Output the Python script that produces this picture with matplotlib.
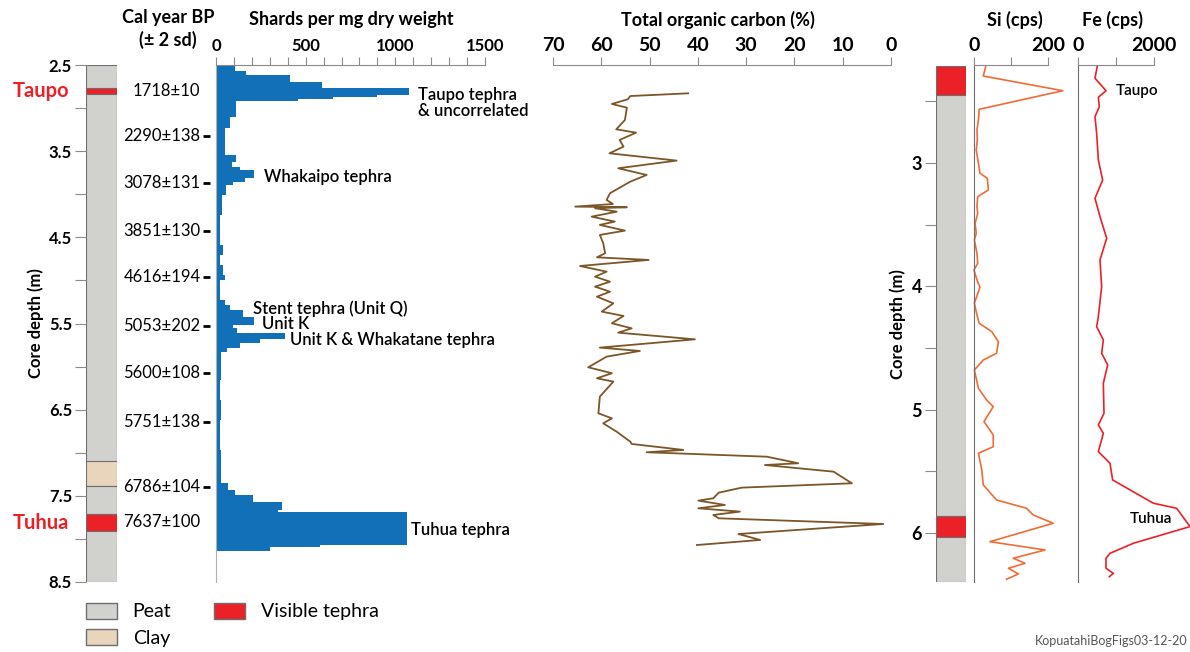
import numpy as np
import matplotlib.pyplot as plt
from matplotlib.patches import Patch
from matplotlib.ticker import MultipleLocator

plt.rcParams['font.family'] = ['Lato', 'DejaVu Sans']

# ==========================================
# DATA
# ==========================================
# lithology, left core log (depth m)
lith_top = [2.50, 2.77, 7.10, 7.39, 7.71, 7.91]
lith_bot = [8.50, 2.84, 7.39, 7.71, 7.91, 8.50]
lith_kind = ['peat', 'tephra', 'clay', 'peat', 'tephra', 'peat']

# lithology, right core log (XRF section)
lith2_top = [2.216, 2.45, 5.86, 6.03]
lith2_bot = [2.45, 5.86, 6.03, 6.396]
lith2_kind = ['tephra', 'peat', 'tephra', 'peat']

# radiocarbon ages
ages = ['1718±10', '2290±138', '3078±131', '3851±130', '4616±194',
        '5053±202', '5600±108', '5751±138', '6786±104', '7637±100']
age_depth = [2.80, 3.32, 3.87, 4.43, 4.96, 5.53, 6.08, 6.64, 7.40, 7.80]
age_dash = [False, True, True, True, True, True, True, True, True, False]

# glass shard counts (bins)
shard_edges = [2.50, 2.57, 2.62, 2.70, 2.77, 2.85, 2.87, 2.89, 2.92, 3.10,
               3.23, 3.54, 3.63, 3.68, 3.72, 3.81, 3.86, 3.89, 4.01, 4.24,
               4.59, 4.70, 4.82, 4.94, 4.99, 5.23, 5.29, 5.34, 5.42, 5.52,
               5.55, 5.61, 5.68, 5.73, 5.78, 5.83, 6.16, 6.39, 6.62, 6.97,
               7.35, 7.43, 7.49, 7.57, 7.66, 7.69, 8.07, 8.09, 8.14]
shard_vals = [106, 165, 415, 590, 1075, 900, 650, 460, 112, 78,
              50, 112, 90, 134, 212, 162, 95, 56, 33, 22,
              39, 22, 39, 50, 22, 50, 78, 151, 212, 95,
              117, 385, 245, 134, 61, 28, 22, 30, 22, 28,
              67, 106, 206, 368, 346, 1066, 580, 300]

shard_notes = ['Taupo tephra\n& uncorrelated', 'Whakaipo tephra', 'Stent tephra (Unit Q)',
               'Unit K', 'Unit K & Whakatane tephra', 'Tuhua tephra']
note_x = [1126, 268, 206, 256, 413, 1087]
note_depth = [2.94, 3.80, 5.33, 5.51, 5.69, 7.90]

# total organic carbon (%)
toc_depth = [2.445, 2.467, 2.493, 2.531, 2.561, 2.660, 2.736, 2.763, 2.822, 2.876,
             2.930, 2.989, 3.051, 3.105, 3.159, 3.253, 3.307, 3.340, 3.361, 3.366,
             3.374, 3.402, 3.442, 3.482, 3.509, 3.555, 3.590, 3.657, 3.738, 3.771,
             3.792, 3.841, 3.887, 3.927, 3.968, 4.008, 4.049, 4.089, 4.143, 4.210,
             4.245, 4.304, 4.345, 4.380, 4.434, 4.501, 4.528, 4.574, 4.660, 4.708,
             4.749, 4.776, 4.897, 5.032, 5.073, 5.113, 5.181, 5.261, 5.280, 5.328,
             5.347, 5.383, 5.436, 5.450, 5.504, 5.598, 5.633, 5.674, 5.719, 5.738,
             5.773, 5.800, 5.827, 5.854, 5.881, 5.927, 6.008, 6.056, 6.097]
toc = [42.0, 54.0, 54.5, 57.8, 54.7, 55.1, 56.9, 52.8, 56.2, 55.4,
       58.3, 44.4, 56.5, 50.6, 54.0, 58.2, 58.9, 57.6, 65.4, 54.7,
       61.3, 56.8, 62.0, 57.2, 60.3, 55.1, 60.3, 59.6, 59.2, 60.9,
       50.2, 64.4, 58.9, 61.3, 58.2, 61.3, 58.2, 60.9, 57.5, 59.9,
       55.4, 57.8, 53.7, 56.5, 40.6, 60.3, 52.0, 58.9, 62.7, 57.8,
       60.9, 57.5, 60.3, 60.6, 57.8, 59.6, 56.8, 54.0, 53.7, 43.0,
       50.6, 25.7, 19.2, 26.1, 11.9, 8.1, 30.9, 35.7, 36.8, 39.9,
       34.4, 39.9, 31.3, 36.8, 35.7, 1.6, 31.6, 27.1, 40.2]

# XRF counts
si_depth = [2.224, 2.305, 2.424, 2.574, 2.660, 2.741, 2.822, 2.903, 3.011, 3.091,
            3.132, 3.226, 3.281, 3.361, 3.415, 3.496, 3.577, 3.631, 3.738, 3.819,
            3.873, 3.954, 4.013, 4.142, 4.237, 4.304, 4.372, 4.453, 4.547, 4.601,
            4.682, 4.830, 4.924, 4.978, 5.099, 5.207, 5.302, 5.355, 5.490, 5.611,
            5.733, 5.800, 5.854, 5.921, 6.070, 6.137, 6.204, 6.245, 6.285, 6.331,
            6.374]
si = [32, 25, 240, 14, 12, 8, 9, 6, 12, 16,
      36, 39, 10, 8, 10, 3, 6, 1, 8, 10,
      0, 8, 16, 1, 8, 14, 48, 66, 61, 25,
      1, 12, 34, 52, 27, 52, 52, 12, 21, 25,
      61, 142, 160, 214, 43, 192, 106, 138, 93, 120,
      88]

fe_depth = [2.224, 2.323, 2.424, 2.477, 2.553, 2.634, 2.768, 2.984, 3.146, 3.294,
            3.442, 3.617, 3.792, 4.008, 4.251, 4.332, 4.439, 4.547, 4.641, 4.789,
            5.032, 5.126, 5.194, 5.342, 5.436, 5.571, 5.759, 5.800, 5.948, 6.083,
            6.164, 6.204, 6.285, 6.326, 6.353]
fe = [509, 447, 737, 535, 561, 447, 491, 535, 649, 447,
      579, 754, 579, 623, 535, 491, 667, 623, 781, 667,
      684, 535, 667, 535, 842, 912, 1982, 2596, 2947, 1456,
      842, 737, 737, 930, 825]

# ==========================================
# STYLE
# ==========================================
fill = {'peat': '#d1d2cd', 'clay': '#e8d5bb', 'tephra': '#ec2027'}
edge = '#6d6e71'
axis_grey = '#8a8a8a'
blue = '#1170b8'
brown = '#7b5628'
si_col = '#f26b35'
fe_col = '#ec2027'

W, H = 1190, 652
fig = plt.figure(figsize=(W / 100, H / 100), dpi=100)


def px_axes(x0, y0, x1, y1):
    return fig.add_axes([x0 / W, 1 - y1 / H, (x1 - x0) / W, (y1 - y0) / H])


def ftxt(x, y, s, **kw):
    fig.text(x / W, 1 - y / H, s, **kw)


def bold_ticks(ax, axis, size):
    labels = ax.get_xticklabels() if axis == 'x' else ax.get_yticklabels()
    for lab in labels:
        lab.set_fontweight('bold')
        lab.set_fontsize(size)


def draw_log(ax, tops, bots, kinds):
    for t, b, k in zip(tops, bots, kinds):
        ax.bar(0.5, b - t, bottom=t, width=1, color=fill[k], edgecolor=edge, linewidth=0.8)
    ax.set_xlim(0, 1)
    ax.set_xticks([])
    for s in ax.spines.values():
        s.set_visible(False)


# ==========================================
# LEFT CORE LOG
# ==========================================
left_ylim = (8.5, 2.5)
ax_lith = px_axes(86, 65, 117, 582)
draw_log(ax_lith, lith_top, lith_bot, lith_kind)
ax_lith.set_ylim(*left_ylim)
ax_lith.set_yticks([2.5, 3.5, 4.5, 5.5, 6.5, 7.5, 8.5])
ax_lith.yaxis.set_minor_locator(MultipleLocator(0.5))
ax_lith.tick_params(axis='y', which='both', length=8, width=0.8, color=axis_grey, pad=2)
bold_ticks(ax_lith, 'y', 12)
ax_lith.set_ylabel('Core depth (m)', fontsize=12, fontweight='bold', labelpad=3.5)

for name, d in zip(['Taupo', 'Tuhua'], [2.80, 7.81]):
    ax_lith.text(-1.45, d, name, transform=ax_lith.get_yaxis_transform(), color=fill['tephra'],
                 fontsize=14.5, fontweight='bold', ha='center', va='center')

# ==========================================
# SHARDS
# ==========================================
ax_sh = px_axes(216, 65, 485, 582)
ax_sh.stairs(shard_vals, shard_edges, orientation='horizontal', fill=True, color=blue)
ax_sh.set_xlim(0, 1500)
ax_sh.set_ylim(*left_ylim)
ax_sh.xaxis.tick_top()
ax_sh.set_xticks([0, 500, 1000, 1500])
ax_sh.xaxis.set_minor_locator(MultipleLocator(100))
ax_sh.tick_params(axis='x', which='both', length=6, width=0.8, color=axis_grey, pad=2)
bold_ticks(ax_sh, 'x', 12)
ax_sh.set_yticks([])
for s in ['right', 'bottom']:
    ax_sh.spines[s].set_visible(False)
ax_sh.spines['top'].set_color(axis_grey)
ax_sh.spines['left'].set_color('#b0b0b0')

yt = ax_sh.get_yaxis_transform()
for a, d, dash in zip(ages, age_depth, age_dash):
    ax_sh.text(-0.058, d, a, transform=yt, ha='right', va='center', fontsize=12, clip_on=False)
    if dash:
        ax_sh.hlines(d, -0.049, -0.022, transform=yt, color='black', lw=2, clip_on=False)

for s, x, d in zip(shard_notes, note_x, note_depth):
    ax_sh.text(x, d, s, fontsize=12, fontweight='semibold', ha='left', va='center',
               linespacing=0.95, clip_on=False)

# ==========================================
# TOTAL ORGANIC CARBON
# ==========================================
right_ylim = (6.396, 2.216)
ax_toc = px_axes(553, 65, 891, 582)
ax_toc.plot(toc, toc_depth, color=brown, lw=1.3)
ax_toc.set_xlim(70, 0)
ax_toc.set_ylim(*right_ylim)
ax_toc.xaxis.tick_top()
ax_toc.set_xticks(range(70, -1, -10))
ax_toc.tick_params(axis='x', length=6, width=0.8, color=axis_grey, pad=2)
bold_ticks(ax_toc, 'x', 14)
ax_toc.set_yticks([])
for s in ['left', 'right', 'bottom']:
    ax_toc.spines[s].set_visible(False)
ax_toc.spines['top'].set_color(axis_grey)

# ==========================================
# RIGHT CORE LOG + XRF
# ==========================================
ax_lith2 = px_axes(936, 66, 966, 582)
draw_log(ax_lith2, lith2_top, lith2_bot, lith2_kind)
ax_lith2.set_ylim(*right_ylim)
ax_lith2.set_yticks([3, 4, 5, 6])
ax_lith2.yaxis.set_minor_locator(MultipleLocator(0.5))
ax_lith2.tick_params(axis='y', which='both', length=8, width=0.8, color=axis_grey, pad=2)
bold_ticks(ax_lith2, 'y', 13)
ax_lith2.set_ylabel('Core depth (m)', fontsize=12, fontweight='bold', labelpad=4)

for ax, xs, ds, col, xmax in [(px_axes(974, 65, 1048, 582), si, si_depth, si_col, 200),
                              (px_axes(1078, 65, 1154, 582), fe, fe_depth, fe_col, 2000)]:
    ax.plot(xs, ds, color=col, lw=1.2, clip_on=False)
    ax.set_xlim(0, xmax)
    ax.set_ylim(*right_ylim)
    ax.xaxis.tick_top()
    ax.set_xticks([0, xmax / 2, xmax])
    ax.set_xticklabels(['0', '', str(xmax)])
    ax.tick_params(axis='x', length=6, width=0.8, color=axis_grey, pad=2)
    bold_ticks(ax, 'x', 14)
    ax.set_yticks([])
    for s in ['right', 'bottom']:
        ax.spines[s].set_visible(False)
    ax.spines['top'].set_color(axis_grey)
    ax.spines['left'].set_color('#6d6e71')
    if xmax == 2000:
        ax_fe = ax

ax_fe.text(1000, 2.43, 'Taupo', fontsize=11, fontweight='semibold', ha='left', va='center')
ax_fe.text(1370, 5.89, 'Tuhua', fontsize=11, fontweight='semibold', ha='left', va='center')

# ==========================================
# HEADERS, LEGEND, FOOTER
# ==========================================
hdr = dict(fontsize=13, fontweight='bold', ha='center', va='center')
ftxt(168, 18, 'Cal year BP', **hdr)
ftxt(168, 40, '(± 2 sd)', **hdr)
ftxt(351, 20, 'Shards per mg dry weight', **hdr)
ftxt(718, 20, 'Total organic carbon (%)', **hdr)
ftxt(1015, 20, 'Si (cps)', **hdr)
ftxt(1112, 20, 'Fe (cps)', **hdr)

handles = [Patch(facecolor=fill['peat'], edgecolor=edge, label='Peat'),
           Patch(facecolor=fill['clay'], edgecolor=edge, label='Clay'),
           Patch(facecolor=fill['tephra'], edgecolor=edge, label='Visible tephra')]
fig.legend(handles=handles, ncol=2, loc='upper left', bbox_to_anchor=(86 / W, 1 - 603 / H),
           frameon=False, fontsize=14, handlelength=1.6, handleheight=0.85,
           handletextpad=0.8, labelspacing=0.45, columnspacing=2.2,
           borderpad=0, borderaxespad=0)

ftxt(1188, 641, 'KopuatahiBogFigs03-12-20', fontsize=9, color='#555555', ha='right', va='center')

fig.savefig('out.png', dpi=100)
